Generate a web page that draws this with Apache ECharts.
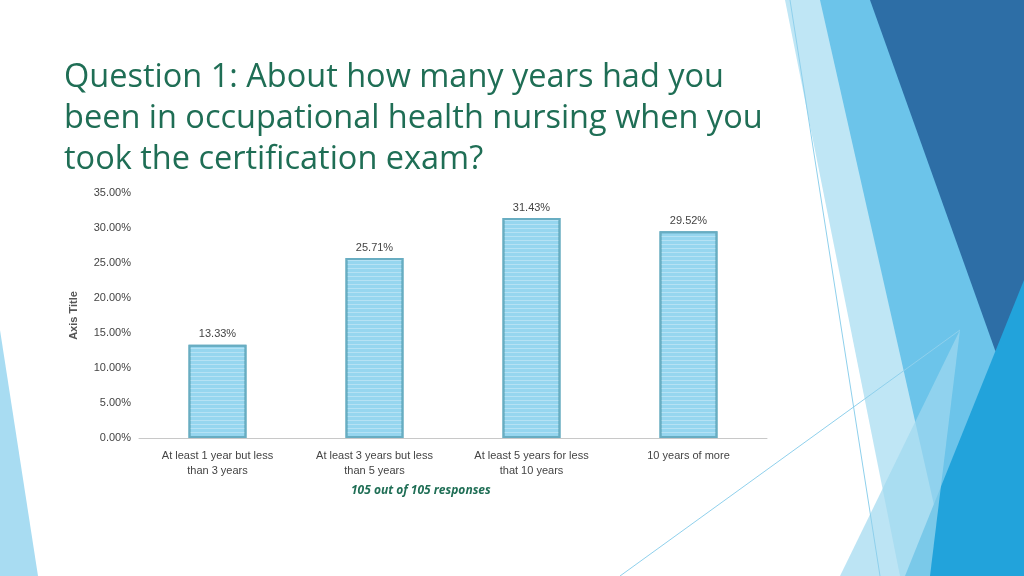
<!DOCTYPE html><html><head><meta charset="utf-8"><script src="https://cdn.jsdelivr.net/npm/echarts@6/dist/echarts.min.js"></script>
<style>html,body{margin:0;background:#fff}#c{width:1024px;height:576px}</style></head><body><div id="c"></div><script>
const categories=['At least 1 year but less\nthan 3 years','At least 3 years but less\nthan 5 years','At least 5 years for less\nthat 10 years','10 years of more'];
const values=[13.33,25.71,31.43,29.52];
const yTicks=[0,5,10,15,20,25,30,35];
const c=echarts.init(document.getElementById('c'));
c.setOption({
 animation:false,
 graphic:[
  {type:'polygon',shape:{points:[[785,0],[1024,0],[1024,576],[900,576]]},style:{fill:'#bfe6f5'},z:-10},
  {type:'polygon',shape:{points:[[820,0],[1024,0],[1024,576],[950,576]]},style:{fill:'#6cc4ea'},z:-9},
  {type:'polygon',shape:{points:[[870,0],[1024,0],[1024,400],[995,350]]},style:{fill:'#2d6ea6'},z:-8},
  {type:'polygon',shape:{points:[[905,576],[1024,280],[1024,576]]},style:{fill:'#22a3db'},z:-7},
  {type:'polygon',shape:{points:[[840,576],[960,330],[930,576]]},style:{fill:'#9fd8f0',opacity:0.7},z:-7},
  {type:'polygon',shape:{points:[[0,330],[38,576],[0,576]]},style:{fill:'#a8dcf2'},z:-10},
  {type:'line',shape:{x1:620,y1:576,x2:960,y2:330},style:{stroke:'#8fd0ec',lineWidth:1}},
  {type:'line',shape:{x1:790,y1:0,x2:880,y2:576},style:{stroke:'#8fd0ec',lineWidth:1}},
  {type:'text',left:64,top:57,style:{text:'Question 1: About how many years had you\nbeen in occupational health nursing when you\ntook the certification exam?',font:'32.5px "Open Sans", sans-serif',fill:'#1f6e55',lineHeight:41}},
  {type:'text',left:351,top:485,style:{text:'105 out of 105 responses',font:'italic bold 12px "Open Sans", sans-serif',fill:'#1f6e55'}}
 ],
 grid:{left:139,right:257,top:193,bottom:138},
 xAxis:{type:'category',data:categories,axisTick:{show:false},axisLine:{lineStyle:{color:'#c8c8c8'}},axisLabel:{color:'#444',fontSize:11,lineHeight:15,margin:10,interval:0}},
 yAxis:{type:'value',min:0,max:35,interval:5,name:'Axis Title',nameLocation:'middle',nameGap:60,nameTextStyle:{color:'#555',fontWeight:'bold',fontSize:11},splitLine:{show:false},axisLine:{show:false},axisLabel:{color:'#444',fontSize:11,formatter:v=>yTicks.includes(v)?v.toFixed(2)+'%':''}},
 series:[{type:'bar',data:values,barWidth:58,itemStyle:{color:'#96d6ef',borderColor:'#68adc2',borderWidth:2,decal:{symbol:'rect',symbolSize:1,dashArrayX:[[1,0]],dashArrayY:[1,3],rotation:0,color:'rgba(255,255,255,0.3)'}},label:{show:true,position:'top',color:'#444',fontSize:11,formatter:p=>p.value.toFixed(2)+'%'}}]
});
</script></body></html>
